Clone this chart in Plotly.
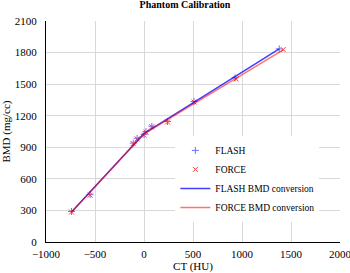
import plotly.graph_objects as go

ct_flash = [-740, -550, -110, -70, 0, 20, 80, 240, 510, 930, 1380]
bmd_flash = [290, 450, 940, 985, 1020, 1050, 1100, 1145, 1335, 1560, 1835]
ct_force = [-740, -550, -110, -70, 0, 20, 80, 240, 510, 940, 1420]
bmd_force = [285, 445, 935, 980, 1015, 1045, 1095, 1140, 1330, 1550, 1828]
flash_line_ct = [-740, 0, 1380]
flash_line_bmd = [285, 1030, 1835]
force_line_ct = [-740, 0, 1420]
force_line_bmd = [282, 1027, 1826]

font = "Liberation Serif"
fig = go.Figure()
fig.add_trace(go.Scatter(x=ct_flash, y=bmd_flash, mode="markers", name="FLASH",
                         marker=dict(symbol="cross-thin", size=5, line=dict(color="#7070ff", width=1), color="#7070ff")))
fig.add_trace(go.Scatter(x=ct_force, y=bmd_force, mode="markers", name="FORCE",
                         marker=dict(symbol="x-thin", size=5, line=dict(color="#ff4040", width=1), color="#ff4040")))
fig.add_trace(go.Scatter(x=flash_line_ct, y=flash_line_bmd, mode="lines", name="FLASH BMD conversion",
                         line=dict(color="rgba(0,0,255,0.75)", width=1.5)))
fig.add_trace(go.Scatter(x=force_line_ct, y=force_line_bmd, mode="lines", name="FORCE BMD conversion",
                         line=dict(color="rgba(255,0,0,0.55)", width=1.5)))

fig.update_layout(
    width=350, height=273,
    margin=dict(l=46, r=10, t=21, b=31),
    paper_bgcolor="white", plot_bgcolor="white",
    font=dict(family=font, size=11, color="black"),
    title=dict(text="<b>Phantom Calibration</b>", x=185/350, xanchor="center", y=0.998, yanchor="top",
               font=dict(family=font, size=10), automargin=False),
    xaxis=dict(range=[-1000, 2000], dtick=500, showgrid=True, gridcolor="#d9d9d9", gridwidth=1,
               showline=True, linecolor="black", linewidth=1, zeroline=False, automargin=False,
               ticklabelstandoff=2, ticklabeloverflow="allow",
               title=dict(text="CT (HU)", font=dict(size=11), standoff=2), tickfont=dict(size=11)),
    yaxis=dict(range=[0, 2100], dtick=300, showgrid=True, gridcolor="#d9d9d9", gridwidth=1,
               showline=True, linecolor="black", linewidth=1, zeroline=False, automargin=False,
               ticklabelstandoff=6, ticklabeloverflow="allow",
               title=dict(text="BMD (mg/cc)", font=dict(size=11), standoff=6), tickfont=dict(size=11)),
    legend=dict(x=0.44, y=0.48, xanchor="left", yanchor="top", bgcolor="white",
                font=dict(size=9.5), tracegroupgap=0, itemwidth=30),
    showlegend=True,
)
fig.write_html("out.html", config={"displayModeBar": False},
               post_script="document.body.style.margin='0px';document.body.style.overflow='hidden';")
